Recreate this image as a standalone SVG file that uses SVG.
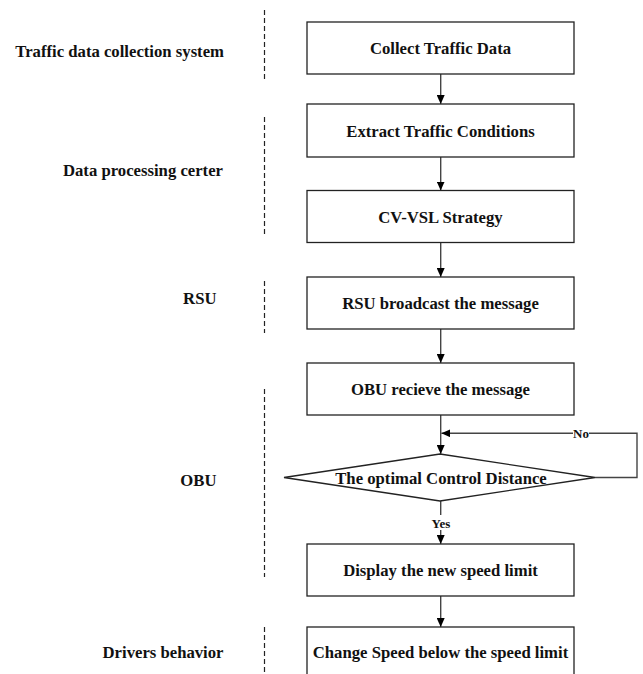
<svg xmlns="http://www.w3.org/2000/svg" width="643" height="674" viewBox="0 0 643 674">
<style>
  .box { fill: #fff; stroke: #222; stroke-width: 1.3; }
  .t { font-family: "Liberation Serif", "Times New Roman", serif; font-weight: bold; font-size: 16.7px; fill: #111; }
  .c { text-anchor: middle; }
  .e { text-anchor: end; }
  .s { font-size: 13px; }
  .conn { fill: none; stroke: #444; stroke-width: 1.4; }
  .dash { fill: none; stroke: #222; stroke-width: 1.2; stroke-dasharray: 5 3; }
</style>
<defs>
  <marker id="arr" markerUnits="userSpaceOnUse" markerWidth="9" markerHeight="8" viewBox="0 0 9 8" refX="9" refY="4" orient="auto">
    <path d="M0,0 L9,4 L0,8 z" fill="#000"/>
  </marker>
</defs>
<rect width="643" height="674" fill="#fff"/>

<g id="lanes">
  <line class="dash" x1="264.5" y1="10" x2="264.5" y2="81"/>
  <line class="dash" x1="264.5" y1="117" x2="264.5" y2="234"/>
  <line class="dash" x1="264.5" y1="281" x2="264.5" y2="333"/>
  <line class="dash" x1="264.5" y1="389" x2="264.5" y2="577"/>
  <line class="dash" x1="264.5" y1="627" x2="264.5" y2="674"/>
  <text class="t e" x="224" y="57">Traffic data collection system</text>
  <text class="t e" x="223" y="175.5">Data processing certer</text>
  <text class="t e" x="216.5" y="303.5">RSU</text>
  <text class="t e" x="216.5" y="485.5">OBU</text>
  <text class="t e" x="223.5" y="657.5">Drivers behavior</text>
</g>

<g id="connectors">
  <line class="conn" x1="440.7" y1="74" x2="440.7" y2="104" marker-end="url(#arr)"/>
  <line class="conn" x1="440.7" y1="157" x2="440.7" y2="190.5" marker-end="url(#arr)"/>
  <line class="conn" x1="440.7" y1="242.5" x2="440.7" y2="277" marker-end="url(#arr)"/>
  <line class="conn" x1="440.7" y1="329" x2="440.7" y2="363" marker-end="url(#arr)"/>
  <line class="conn" x1="440.7" y1="415" x2="440.7" y2="454" marker-end="url(#arr)"/>
  <line class="conn" x1="440.7" y1="501" x2="440.7" y2="515"/>
  <line class="conn" x1="440.7" y1="530" x2="440.7" y2="544" marker-end="url(#arr)"/>
  <text class="t c s" x="441" y="527.5">Yes</text>
  <polyline class="conn" points="595,477.5 637,477.5 637,433.3 589,433.3"/>
  <line class="conn" x1="573" y1="433.3" x2="441.4" y2="433.3" marker-end="url(#arr)"/>
  <text class="t c s" x="581" y="437.8">No</text>
  <line class="conn" x1="440.7" y1="596" x2="440.7" y2="627" marker-end="url(#arr)"/>
</g>

<g id="n1">
  <rect class="box" x="307" y="22" width="267" height="52"/>
  <text class="t c" x="440.5" y="53.5">Collect Traffic Data</text>
</g>
<g id="n2">
  <rect class="box" x="307" y="104" width="267" height="53"/>
  <text class="t c" x="440.5" y="136.5">Extract Traffic Conditions</text>
</g>
<g id="n3">
  <rect class="box" x="307" y="190.5" width="267" height="52"/>
  <text class="t c" x="440.5" y="222.5">CV-VSL Strategy</text>
</g>
<g id="n4">
  <rect class="box" x="307" y="277" width="267" height="52"/>
  <text class="t c" x="440.5" y="308.5">RSU broadcast the message</text>
</g>
<g id="n5">
  <rect class="box" x="307" y="363" width="267" height="52"/>
  <text class="t c" x="440.5" y="394.5">OBU recieve the message</text>
</g>
<g id="n6">
  <polygon class="box" points="440,454 595,477.5 440,501 284,477.5"/>
  <text class="t c" x="441" y="483.5">The optimal Control Distance</text>
</g>
<g id="n7">
  <rect class="box" x="307" y="544" width="267" height="52"/>
  <text class="t c" x="440.5" y="576">Display the new speed limit</text>
</g>
<g id="n8">
  <rect class="box" x="307" y="627" width="267" height="60"/>
  <text class="t c" x="440.5" y="657.5">Change Speed below the speed limit</text>
</g>
</svg>
